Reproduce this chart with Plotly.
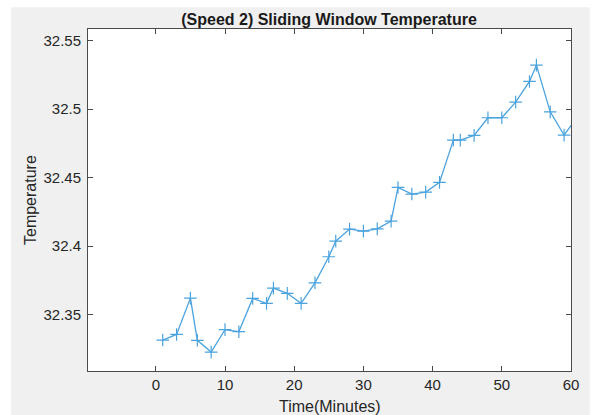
import plotly.graph_objects as go

# Sliding-window temperature samples (time in minutes, temperature)
time_min = [1, 3, 5, 6, 8, 10, 12, 14, 16, 17, 19, 21, 23, 25, 26, 28, 30, 32,
            34, 35, 37, 39, 41, 43, 44, 46, 48, 50, 52, 54, 55, 57, 59, 61]
temperature = [32.3314, 32.3355, 32.3620, 32.3312, 32.3226, 32.3390, 32.3375,
               32.3618, 32.3582, 32.3693, 32.3655, 32.3582, 32.3732, 32.3922,
               32.4036, 32.4124, 32.4109, 32.4126, 32.4182, 32.4428, 32.4380,
               32.4394, 32.4465, 32.4774, 32.4774, 32.4808, 32.4937, 32.4937,
               32.5051, 32.5202, 32.5321, 32.4980, 32.4810, 32.4950]

x_ticks = [0, 10, 20, 30, 40, 50, 60]
y_ticks = [32.35, 32.4, 32.45, 32.5, 32.55]
y_tick_text = ["32.35", "32.4", "32.45", "32.5", "32.55"]

FONT = "Liberation Sans, Arial, sans-serif"
TEXT = "#262626"
AXIS = "#4a4a4a"

fig = go.Figure()
fig.add_trace(go.Scatter(
    x=time_min, y=temperature, mode="lines+markers",
    line=dict(color="#4ba3de", width=1.3),
    marker=dict(symbol="cross-thin-open", size=9,
                line=dict(color="#1a78bd", width=1.2)),
    showlegend=False,
))

axis_common = dict(
    showline=True, linecolor=AXIS, linewidth=1, mirror="ticks",
    ticks="inside", ticklen=5, tickcolor=AXIS, tickwidth=1,
    showgrid=False, zeroline=False,
    tickfont=dict(family=FONT, size=15, color=TEXT),
)

fig.update_xaxes(range=[-9.8, 60], tickvals=x_ticks, **axis_common)
fig.update_yaxes(range=[32.3088, 32.5585], tickvals=y_ticks,
                 ticktext=y_tick_text, ticklabelstandoff=3, **axis_common)

# Thin white frame around the grey figure area
frame = dict(type="rect", xref="paper", yref="paper", layer="below",
             fillcolor="white", line=dict(width=0))
fig.add_shape(x0=-0.2, x1=-0.1593, y0=-0.2, y1=1.2, **frame)
fig.add_shape(x0=-0.2, x1=1.2, y0=1.0634, y1=1.2, **frame)
fig.add_shape(x0=1.0387, x1=1.2, y0=-0.2, y1=1.2, **frame)

fig.add_annotation(text="Time(Minutes)", xref="paper", yref="paper",
                   x=0.5, y=0, yshift=-35, showarrow=False,
                   xanchor="center", yanchor="middle",
                   font=dict(family=FONT, size=16, color=TEXT))
fig.add_annotation(text="Temperature", xref="paper", yref="paper",
                   x=0, y=0.5, xshift=-58, textangle=-90, showarrow=False,
                   xanchor="center", yanchor="middle",
                   font=dict(family=FONT, size=16, color=TEXT))

fig.update_layout(
    width=595, height=415,
    margin=dict(l=88, r=24, t=29, b=44),
    paper_bgcolor="#f0f0f0", plot_bgcolor="white",
    title=dict(text="<b>(Speed 2) Sliding Window Temperature</b>",
               x=0.553, xanchor="center", y=0.954, yanchor="middle",
               font=dict(family=FONT, size=16, color="#1a1a1a")),
)

fig.write_html("out.html")
